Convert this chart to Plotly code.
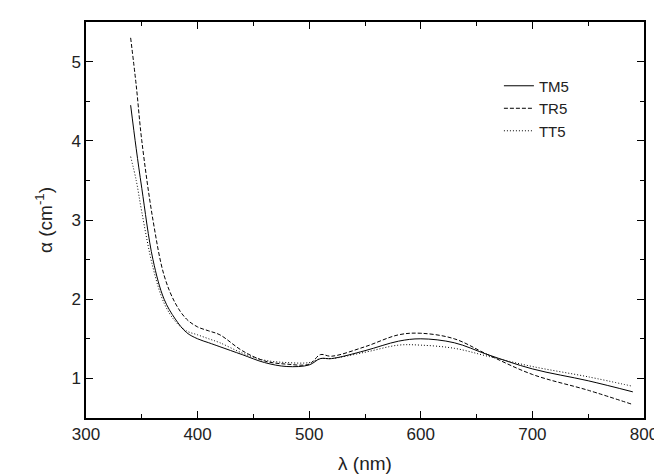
import plotly.graph_objects as go

wl = [340, 345, 350, 360, 370, 380, 390, 400, 410, 420, 440, 460, 480, 500, 510, 520, 550, 580, 600, 630, 660, 700, 750, 790]
tm5 = [4.45, 3.9, 3.4, 2.5, 2.0, 1.75, 1.58, 1.5, 1.45, 1.4, 1.3, 1.2, 1.15, 1.17, 1.25, 1.25, 1.35, 1.47, 1.5, 1.45, 1.3, 1.12, 0.97, 0.83]
tr5 = [5.3, 4.7, 4.0, 3.0, 2.3, 1.95, 1.75, 1.65, 1.6, 1.55, 1.35, 1.22, 1.18, 1.18, 1.3, 1.28, 1.4, 1.55, 1.57, 1.5, 1.3, 1.05, 0.85, 0.67]
tt5 = [3.8, 3.5, 3.1, 2.4, 1.95, 1.72, 1.6, 1.55, 1.5, 1.45, 1.32, 1.23, 1.2, 1.2, 1.25, 1.25, 1.33, 1.42, 1.42, 1.38, 1.28, 1.15, 1.02, 0.9]

fig = go.Figure()
for name, ys, dash in [("TM5", tm5, "solid"), ("TR5", tr5, "4px,2px"), ("TT5", tt5, "1px,2px")]:
    fig.add_trace(go.Scatter(x=wl, y=ys, name=name, mode="lines",
                             line=dict(color="black", width=1, dash=dash, shape="spline")))

ax = dict(showgrid=False, zeroline=False, showline=True, linecolor="black", linewidth=1.5,
          mirror="ticks", ticks="inside", ticklen=7, tickcolor="black",
          tickfont=dict(size=17))
fig.update_xaxes(range=[300, 800], dtick=100, title_text="λ (nm)", title_standoff=14,
                 minor=dict(ticks="inside", ticklen=4, dtick=50, tickcolor="black"), **ax)
fig.update_yaxes(range=[0.5, 5.5], dtick=1, title_text="α (cm<sup>-1</sup>)", title_standoff=14,
                 minor=dict(ticks="inside", ticklen=4, dtick=0.5, tickcolor="black"), **ax)
fig.update_layout(width=662, height=475, plot_bgcolor="white", paper_bgcolor="white",
                  margin=dict(l=78, r=18, t=12, b=62),
                  font=dict(family="Liberation Sans, Arial", size=16, color="#222"),
                  legend=dict(x=0.74, y=0.88, bgcolor="rgba(0,0,0,0)", font=dict(size=15)))
fig.write_html("out.html")
